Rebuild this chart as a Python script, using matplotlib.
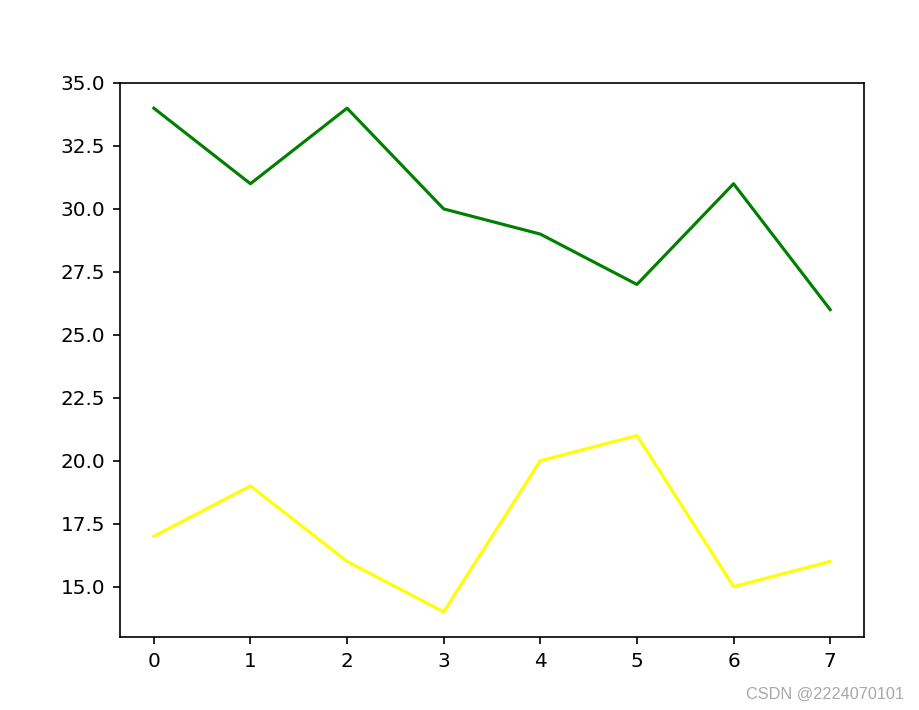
import matplotlib
matplotlib.use("Agg")
import matplotlib.pyplot as plt

x = [0, 1, 2, 3, 4, 5, 6, 7]
green_values = [34, 31, 34, 30, 29, 27, 31, 26]
yellow_values = [17, 19, 16, 14, 20, 21, 15, 16]

W, H = 919, 710
DPI = 150
fig = plt.figure(figsize=(W / DPI, H / DPI), dpi=DPI)
ax = fig.add_axes([120 / W, 1 - 637 / H, (864 - 120) / W, (637 - 83) / H])
ax.plot(x, green_values, color="green")
ax.plot(x, yellow_values, color="yellow")
ax.tick_params(labelsize=9.6)

fig.text(904 / W, 1 - 694 / H, "CSDN @2224070101", ha="right", va="center",
         color="#a8a8a8", fontsize=7.8, family="Liberation Sans")

fig.savefig("out.png", dpi=DPI)
